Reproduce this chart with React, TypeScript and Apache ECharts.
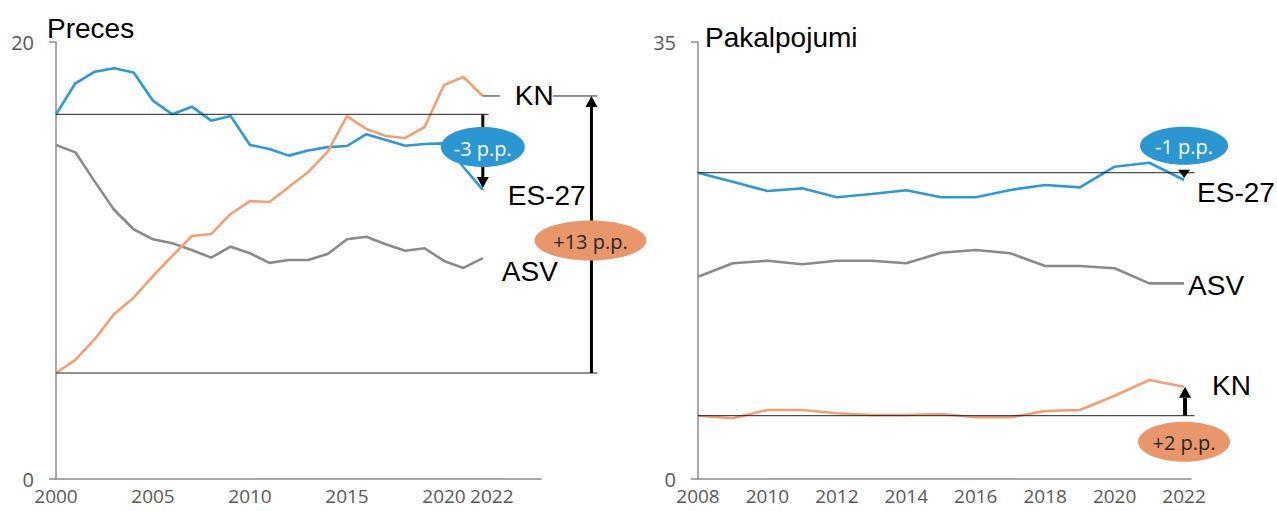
import React, { useEffect, useRef } from 'react';
import * as echarts from 'echarts';

// ---------- data ----------
const leftYears = [2000, 2001, 2002, 2003, 2004, 2005, 2006, 2007, 2008, 2009, 2010, 2011, 2012, 2013, 2014, 2015, 2016, 2017, 2018, 2019, 2020, 2021, 2022];
const leftES27 = [16.69, 18.11, 18.64, 18.8, 18.6, 17.31, 16.69, 17.04, 16.4, 16.61, 15.29, 15.1, 14.8, 15.03, 15.19, 15.24, 15.78, 15.51, 15.25, 15.33, 15.36, 14.28, 13.23];
const leftASV = [15.29, 14.95, 13.61, 12.31, 11.43, 10.97, 10.79, 10.48, 10.13, 10.63, 10.33, 9.89, 10.02, 10.02, 10.3, 10.97, 11.09, 10.74, 10.45, 10.56, 9.98, 9.66, 10.11];
const leftKN = [4.85, 5.45, 6.41, 7.55, 8.3, 9.29, 10.21, 11.12, 11.21, 12.13, 12.72, 12.68, 13.36, 14.05, 14.97, 16.61, 16.02, 15.7, 15.61, 16.11, 18.03, 18.4, 17.53];
const leftTickYears = [2000, 2005, 2010, 2015, 2020, 2022];

const rightYears = [2008, 2009, 2010, 2011, 2012, 2013, 2014, 2015, 2016, 2017, 2018, 2019, 2020, 2021, 2022];
const rightES27 = [24.53, 23.81, 23.07, 23.28, 22.56, 22.83, 23.12, 22.56, 22.56, 23.15, 23.55, 23.36, 25.01, 25.33, 23.95];
const rightASV = [16.2, 17.28, 17.48, 17.2, 17.48, 17.48, 17.28, 18.12, 18.34, 18.08, 17.06, 17.06, 16.88, 15.67, 15.67];
const rightKN = [5.07, 4.86, 5.53, 5.53, 5.26, 5.13, 5.13, 5.21, 4.94, 4.94, 5.45, 5.53, 6.67, 7.93, 7.39];
const rightTickYears = [2008, 2010, 2012, 2014, 2016, 2018, 2020, 2022];

const titles = ['Preces', 'Pakalpojumi'];
const seriesNames = ['ES-27', 'ASV', 'KN'];
const leftNotes = ['-3 p.p.', '+13 p.p.'];
const rightNotes = ['-1 p.p.', '+2 p.p.'];

// ---------- styles ----------
const BLUE = '#2c9ad4';
const GREY = '#8a8a8a';
const ORANGE = '#f0a072';
const BLUE_FILL = '#2a96d2';
const ORANGE_FILL = '#e9966b';
const AXIS = '#8c8c8c';
const LABEL_FONT = '"Liberation Sans", Arial, sans-serif';
const NUM_FONT = '"Open Sans", sans-serif';

const pair = (xs: number[], ys: number[]) => xs.map((x, i) => [x, ys[i]]);

function xAxisCfg(gi: number, min: number, max: number, ticks: number[], shiftLast: boolean) {
  const last = ticks[ticks.length - 1];
  return {
    type: 'value', gridIndex: gi, min, max, interval: 1,
    axisLine: { show: true, lineStyle: { color: AXIS, width: 1.5 } },
    axisTick: { show: false },
    splitLine: { show: false },
    axisLabel: {
      show: true, margin: 8, color: '#595959', fontSize: 19, lineHeight: 18, fontFamily: NUM_FONT,
      showMinLabel: true, showMaxLabel: false,
      formatter: (v: number) => {
        const r = Math.round(v);
        if (Math.abs(v - r) > 1e-6 || !ticks.includes(r)) return '';
        return shiftLast && r === last ? `{s|${r}}` : String(r);
      },
      rich: {
        s: { padding: [0, 0, 0, 18], color: '#595959', fontSize: 19, lineHeight: 18, fontFamily: NUM_FONT },
      },
    },
  };
}
function yAxisCfg(gi: number, max: number) {
  return {
    type: 'value', gridIndex: gi, min: 0, max, interval: max,
    axisLine: { show: true, lineStyle: { color: AXIS, width: 1.5 } },
    axisTick: { show: true, length: 7, lineStyle: { color: AXIS, width: 1.5 } },
    splitLine: { show: false },
    axisLabel: { margin: 22, color: '#595959', fontSize: 20, fontFamily: NUM_FONT },
  };
}
function lineSeries(gi: number, name: string, data: number[][], color: string) {
  return {
    type: 'line', name, xAxisIndex: gi, yAxisIndex: gi, data,
    symbol: 'none', smooth: false, z: 3,
    lineStyle: { color, width: 2.6 },
  };
}

export default function App() {
  const ref = useRef<HTMLDivElement>(null);
  useEffect(() => {
    document.body.style.margin = '0';
    if (!ref.current) return;
    const chart = echarts.init(ref.current, null, { renderer: 'svg' });
    chart.setOption({
      animation: false,
      backgroundColor: '#ffffff',
      grid: [
        { left: 56, top: 42, width: 485, height: 437 },
        { left: 698, top: 42, width: 493, height: 437 },
      ],
      xAxis: [xAxisCfg(0, 2000, 2025, leftTickYears, true), xAxisCfg(1, 2008, 2022.2, rightTickYears, false)],
      yAxis: [yAxisCfg(0, 20), yAxisCfg(1, 35)],
      series: [
        lineSeries(0, 'ES-27', pair(leftYears, leftES27), BLUE),
        lineSeries(0, 'ASV', pair(leftYears, leftASV), GREY),
        lineSeries(0, 'KN', pair(leftYears, leftKN), ORANGE),
        lineSeries(1, 'ES-27', pair(rightYears, rightES27), BLUE),
        lineSeries(1, 'ASV', pair(rightYears, rightASV), GREY),
        lineSeries(1, 'KN', pair(rightYears, rightKN), ORANGE),
      ],
    });

    const P = (si: number, x: number, y: number) => chart.convertToPixel({ seriesIndex: si }, [x, y]) as number[];
    const g: any[] = [];
    const hline = (x1: number, x2: number, y: number) =>
      g.push({ type: 'line', z: 50, shape: { x1, y1: y, x2, y2: y }, style: { stroke: '#222', lineWidth: 1 } });
    const arrow = (x: number, yFrom: number, yTip: number, w = 3) => {
      const dir = yTip < yFrom ? -1 : 1;
      const head = 11;
      g.push({ type: 'line', z: 60, shape: { x1: x, y1: yFrom, x2: x, y2: yTip - dir * head }, style: { stroke: '#000', lineWidth: w } });
      g.push({ type: 'polygon', z: 60, shape: { points: [[x - 6, yTip - dir * head], [x + 6, yTip - dir * head], [x, yTip]] }, style: { fill: '#000' } });
    };
    const bubble = (cx: number, cy: number, rx: number, ry: number, fill: string, text: string, color: string) => {
      g.push({ type: 'ellipse', z: 70, shape: { cx, cy, rx, ry }, style: { fill } });
      g.push({ type: 'text', z: 71, x: cx, y: cy + 1, style: { text, fill: color, font: `20px ${NUM_FONT}`, textAlign: 'center', textVerticalAlign: 'middle' } });
    };
    const label = (x: number, y: number, text: string, size = 28) =>
      g.push({ type: 'text', z: 80, x, y, style: { text, fill: '#000', font: `${size}px ${LABEL_FONT}`, textAlign: 'left', textVerticalAlign: 'middle' } });

    // ----- left panel -----
    const lEnd = leftYears[leftYears.length - 1];
    const lStart = leftYears[0];
    const l0 = P(0, lStart, leftES27[0]);
    const lEsEnd = P(0, lEnd, leftES27[leftES27.length - 1]);
    const lKn0 = P(2, lStart, leftKN[0]);
    const lKnEnd = P(2, lEnd, leftKN[leftKN.length - 1]);
    const farX = P(0, 2027.9, 0)[0];
    const bigX = P(0, 2027.6, 0)[0];
    hline(l0[0], P(0, 2022.3, 0)[0], l0[1]);
    hline(lKn0[0], farX, lKn0[1]);
    hline(lKnEnd[0], lKnEnd[0] + 17, lKnEnd[1]);
    hline(lKnEnd[0] + 70, farX, lKnEnd[1]);
    arrow(lEsEnd[0], l0[1], lEsEnd[1] - 2);
    arrow(bigX, lKn0[1], lKnEnd[1]);
    bubble(lEsEnd[0], (l0[1] + lEsEnd[1]) / 2 - 5, 42, 20, BLUE_FILL, leftNotes[0], '#ffffff');
    bubble(bigX - 1, (lKn0[1] + lKnEnd[1]) / 2 + 6, 56, 20, ORANGE_FILL, leftNotes[1], '#262626');
    label(lKnEnd[0] + 32, lKnEnd[1], seriesNames[2]);
    label(lEsEnd[0] + 25, 195, seriesNames[0]);
    label(lEsEnd[0] + 19, 271, seriesNames[1]);

    // ----- right panel -----
    const rEnd = rightYears[rightYears.length - 1];
    const rStart = rightYears[0];
    const r0 = P(3, rStart, rightES27[0]);
    const rEsEnd = P(3, rEnd, rightES27[rightES27.length - 1]);
    const rKn0 = P(5, rStart, rightKN[0]);
    const rKnEnd = P(5, rEnd, rightKN[rightKN.length - 1]);
    const rAsvEnd = P(4, rEnd, rightASV[rightASV.length - 1]);
    const rLineEnd = P(3, 2022.3, 0)[0];
    hline(r0[0], rLineEnd, r0[1]);
    hline(rKn0[0], rLineEnd, rKn0[1]);
    g.push({ type: 'polygon', z: 60, shape: { points: [[rEsEnd[0] - 6, r0[1] - 3], [rEsEnd[0] + 6, r0[1] - 3], [rEsEnd[0], rEsEnd[1] - 2]] }, style: { fill: '#000' } });
    arrow(rKnEnd[0] + 1, rKn0[1], rKnEnd[1], 4);
    bubble(rEsEnd[0], r0[1] - 27, 44, 19, BLUE_FILL, rightNotes[0], '#ffffff');
    bubble(rKnEnd[0], rKn0[1] + 26, 46, 20, ORANGE_FILL, rightNotes[1], '#262626');
    label(rEsEnd[0] + 13, rEsEnd[1] + 13, seriesNames[0]);
    label(rAsvEnd[0] + 4, rAsvEnd[1] + 2, seriesNames[1]);
    label(rKnEnd[0] + 28, rKnEnd[1] - 1, seriesNames[2]);

    // titles
    g.push({ type: 'text', z: 80, x: 47, y: 28, style: { text: titles[0], fill: '#000', font: `28px ${LABEL_FONT}`, textAlign: 'left', textVerticalAlign: 'middle' } });
    g.push({ type: 'text', z: 80, x: 705, y: 37, style: { text: titles[1], fill: '#000', font: `28px ${LABEL_FONT}`, textAlign: 'left', textVerticalAlign: 'middle' } });

    chart.setOption({ graphic: g });
    return () => chart.dispose();
  }, []);
  return <div ref={ref} style={{ width: 1277, height: 511 }} />;
}
